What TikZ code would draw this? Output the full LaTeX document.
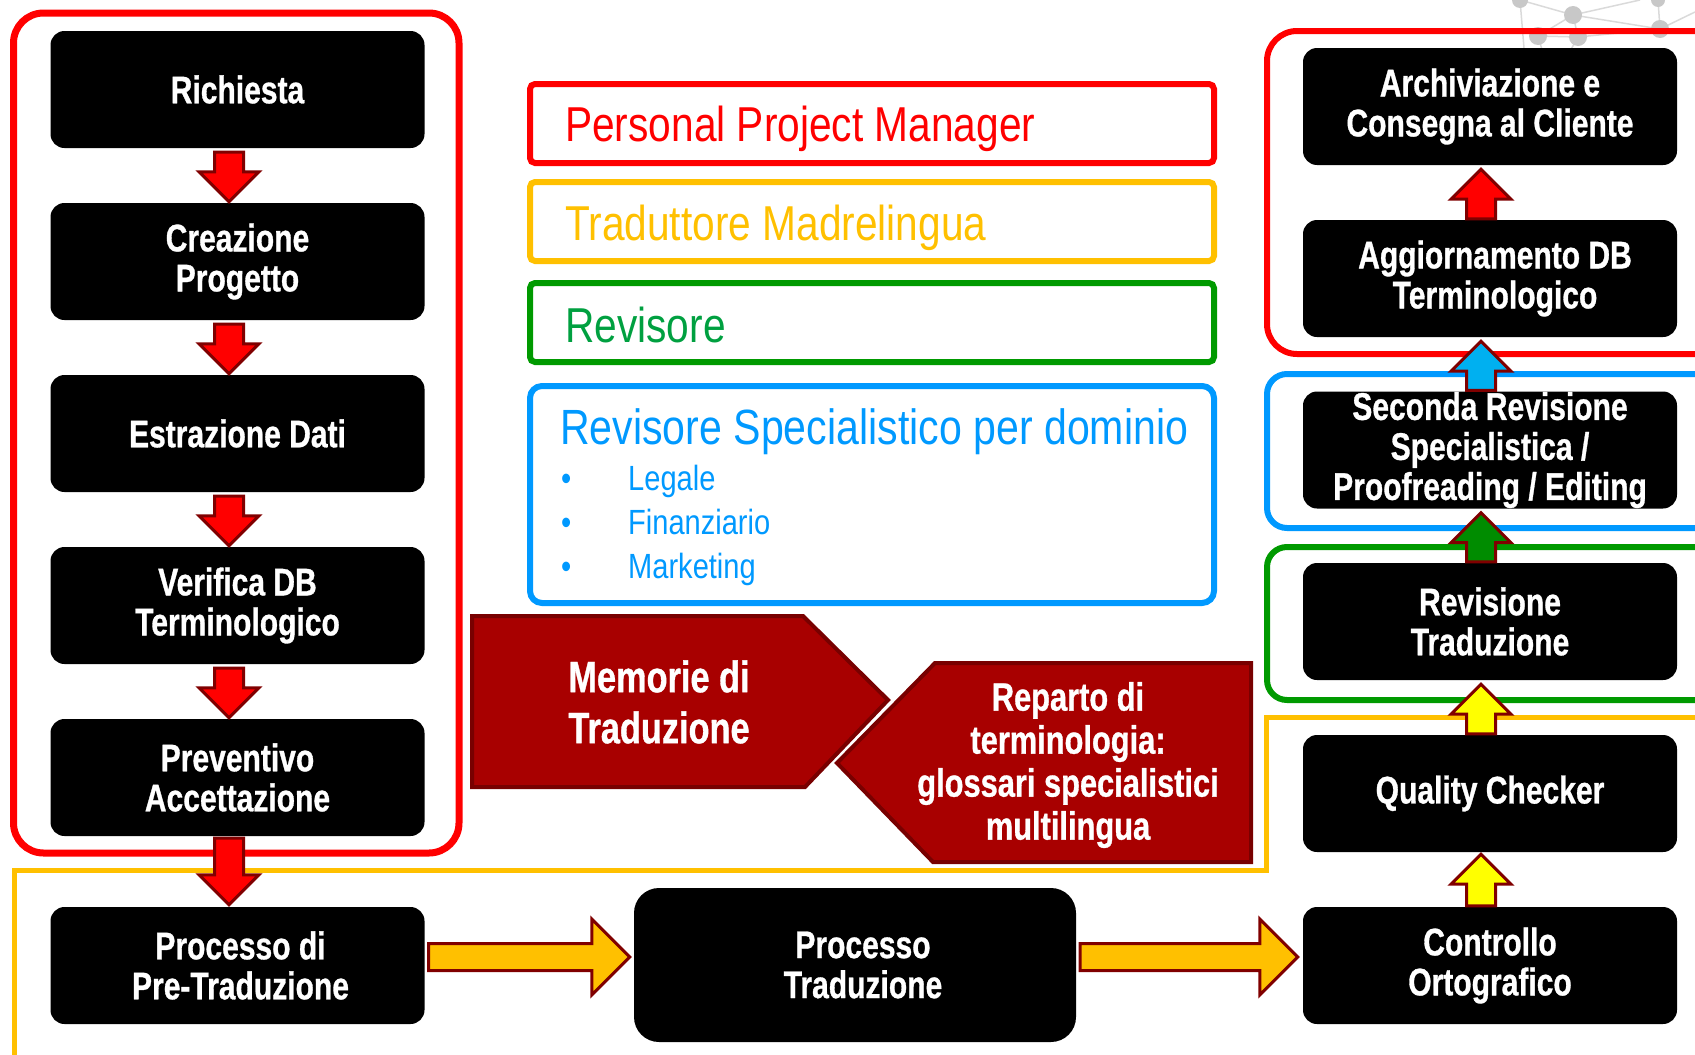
\documentclass[tikz,border=0pt]{standalone}
\usepackage{fontspec}
\setmainfont{Liberation Sans}
\newfontfamily\cnd[FakeStretch=0.83]{Liberation Sans}
\newfontfamily\cndb[FakeStretch=0.78, BoldFeatures={FakeBold=0.8}]{Liberation Sans}
\usetikzlibrary{calc}
\definecolor{cred}{HTML}{FF0000}
\definecolor{cylw}{HTML}{FFC000}
\definecolor{cgrn}{HTML}{009A00}
\definecolor{cgrnt}{HTML}{00A040}
\definecolor{cblu}{HTML}{0099FF}
\definecolor{darkr}{HTML}{800000}
\definecolor{pent}{HTML}{A80000}
\definecolor{pentb}{HTML}{780000}
\definecolor{ablue}{HTML}{00B0F0}
\definecolor{agreen}{HTML}{008C00}
\definecolor{ayel}{HTML}{FFFF00}
\definecolor{netg}{HTML}{C8C8C8}
\definecolor{netl}{HTML}{DADADA}
\tikzset{
 blackbox/.style={fill=black, rounded corners=14pt, minimum width=374pt, minimum height=117pt, text=white, align=center, font=\cndb\bfseries\fontsize{38.5}{40}\selectfont, inner sep=0pt},
 legbox/.style={line width=6pt, rounded corners=5pt, minimum width=684pt, inner sep=0pt},
 legtext/.style={anchor=base west, font=\cnd\fontsize{49}{52}\selectfont, inner sep=0pt},
 itemtext/.style={anchor=base west, font=\cnd\fontsize{35}{40}\selectfont, inner sep=0pt, text=cblu},
 blk/.style={draw=darkr, line width=3pt, line join=miter},
 pentshape/.style={fill=pent, draw=pentb, line width=4pt, line join=miter},
 penttext/.style={text=white, align=center, inner sep=0pt},
 cont/.style={line width=6pt, rounded corners=30pt},
}
\newcommand\blkdown[3]{\draw[blk,fill=#1] let \p1=(#2), \p2=(#3) in (\x1-14.5pt,\y1) -- (\x1+14.5pt,\y1) -- (\x1+14.5pt,\y2+30pt) -- (\x1+30pt,\y2+30pt) -- (\x1,\y2) -- (\x1-30pt,\y2+30pt) -- (\x1-14.5pt,\y2+30pt) -- cycle;}
\newcommand\blkup[3]{\draw[blk,fill=#1] let \p1=(#2), \p2=(#3) in (\x1-14.5pt,\y1) -- (\x1+14.5pt,\y1) -- (\x1+14.5pt,\y2-30pt) -- (\x1+30pt,\y2-30pt) -- (\x1,\y2) -- (\x1-30pt,\y2-30pt) -- (\x1-14.5pt,\y2-30pt) -- cycle;}
\newcommand\blkright[3]{\draw[blk,fill=#1] let \p1=(#2), \p2=(#3) in (\x1,\y1+13.5pt) -- (\x2-38pt,\y1+13.5pt) -- (\x2-38pt,\y1+38pt) -- (\x2,\y1) -- (\x2-38pt,\y1-38pt) -- (\x2-38pt,\y1-13.5pt) -- (\x1,\y1-13.5pt) -- cycle;}
\begin{document}
\begin{tikzpicture}[x=1pt,y=-1pt]
\useasboundingbox (0,0) rectangle (1695,1055);
\clip (0,0) rectangle (1695,1055);
% decorative network
\draw[netl, line width=1.5pt] (1520,0)--(1573,15) (1520,0)--(1525,60) (1573,15)--(1538,36) (1573,15)--(1578,37) (1573,15)--(1640,0) (1573,15)--(1660,29) (1538,36)--(1545,60) (1578,37)--(1565,60) (1578,37)--(1660,29) (1660,29)--(1658,0) (1660,29)--(1695,12) (1538,36)--(1578,37);
\fill[netg] (1520,0) circle (8pt) (1573,15) circle (9pt) (1538,36) circle (9pt) (1578,37) circle (9pt) (1660,29) circle (9pt) (1658,0) circle (7pt);
% containers
\draw[cred, cont, line width=7pt] (13.5,13) rectangle (459,853);
\draw[cylw, line width=5pt] (14.5,1080) -- (14.5,870) -- (1266,870) -- (1266,717) -- (1720,717);
\draw[cred, cont] (1267,31) rectangle (1740,354);
\draw[cblu, cont, rounded corners=20pt] (1267,374) rectangle (1740,528);
\draw[cgrn, cont, rounded corners=20pt] (1267,547) rectangle (1740,700);
% legend
\node[legbox, draw=cred, minimum height=79pt] (lg1) at (872,123.5) {};
\node[legbox, draw=cylw, minimum height=79pt] (lg2) at (872,221.5) {};
\node[legbox, draw=cgrn, minimum height=79pt] (lg3) at (872,322.5) {};
\node[legbox, draw=cblu, minimum height=217pt, rounded corners=12pt] (lg4) at (872,494.5) {};
\node[legtext, text=cred] (tl1) at (565,141) {Personal Project Manager};
\node[legtext, text=cylw] (tl2) at (565,240) {Traduttore Madrelingua};
\node[legtext, text=cgrnt] (tl3) at (565,342) {Revisore};
\node[legtext, text=cblu, font=\cnd\fontsize{49.5}{52}\selectfont] (tl4) at (560,444) {Revisore Specialistico per dominio};
\node[itemtext] (bu1) at (561,490) {•};
\node[itemtext] (bu2) at (561,534) {•};
\node[itemtext] (bu3) at (561,578) {•};
\node[itemtext] (it1) at (628,490) {Legale};
\node[itemtext] (it2) at (628,534) {Finanziario};
\node[itemtext] (it3) at (628,578) {Marketing};
% pentagons
\draw[pentshape] (472,616) -- (803,616) -- (888,700) -- (805,787) -- (472,787) -- cycle;
\node[penttext, font=\cndb\bfseries\fontsize{44}{51}\selectfont] (mem) at (659,702) {Memorie di\\Traduzione};
\draw[pentshape] (1251,663) -- (935,663) -- (837,763) -- (933,862) -- (1251,862) -- cycle;
\node[penttext, font=\cndb\bfseries\fontsize{39.5}{43}\selectfont] (rep) at (1068,765) {Reparto di\\terminologia:\\glossari specialistici\\multilingua};
% boxes
\node[blackbox] (ric) at (237.5,89.5) {Richiesta};
\node[blackbox] (cre) at (237.5,261.5) {Creazione\\Progetto};
\node[blackbox] (est) at (237.5,433.5) {Estrazione Dati};
\node[blackbox] (ver) at (237.5,605.5) {Verifica DB\\Terminologico};
\node[blackbox] (pre) at (237.5,777.5) {Preventivo\\Accettazione};
\node[blackbox] (ptr) at (237.5,965.5) {\hspace*{6pt}Processo di\\\hspace*{6pt}Pre-Traduzione};
\node[blackbox, minimum width=442pt, minimum height=154pt, rounded corners=25pt] (ptd) at (855,965) {\hspace*{16pt}Processo\\\hspace*{16pt}Traduzione};
\node[blackbox] (ctl) at (1490,965.5) {Controllo\\Ortografico};
\node[blackbox] (qch) at (1490,793.5) {Quality Checker};
\node[blackbox] (rvt) at (1490,621.5) {Revisione\\Traduzione};
\node[blackbox] (sec) at (1490,450) {Seconda Revisione\\Specialistica /\\Proofreading / Editing};
\node[blackbox] (agg) at (1490,278.5) {\hspace*{10pt}Aggiornamento DB\\\hspace*{10pt}Terminologico};
\node[blackbox] (arc) at (1490,106.5) {Archiviazione e\\Consegna al Cliente};
% arrows
\blkdown{cred}{$(ric.south)+(-8.5,4)$}{$(cre.north)+(-8.5,-1)$}
\blkdown{cred}{$(cre.south)+(-8.5,4)$}{$(est.north)+(-8.5,-1)$}
\blkdown{cred}{$(est.south)+(-8.5,4)$}{$(ver.north)+(-8.5,-1)$}
\blkdown{cred}{$(ver.south)+(-8.5,4)$}{$(pre.north)+(-8.5,-1)$}
\blkdown{cred}{$(pre.south)+(-8.5,2)$}{$(ptr.north)+(-8.5,-2)$}
\blkright{cylw}{$(ptr.east)+(4,-8.5)$}{$(ptd.west)+(-4,-8)$}
\blkright{cylw}{$(ptd.east)+(4,-8)$}{$(ctl.west)+(-5,-8.5)$}
\blkup{ayel}{$(ctl.north)+(-9,-1)$}{$(qch.south)+(-9,2)$}
\blkup{ayel}{$(qch.north)+(-9,-1)$}{$(rvt.south)+(-9,4)$}
\blkup{agreen}{$(rvt.north)+(-9,-1)$}{$(sec.south)+(-9,4)$}
\blkup{ablue}{$(sec.north)+(-9,-1)$}{$(agg.south)+(-9,4)$}
\blkup{cred}{$(agg.north)+(-9,-1)$}{$(arc.south)+(-9,4)$}
\end{tikzpicture}
\end{document}
